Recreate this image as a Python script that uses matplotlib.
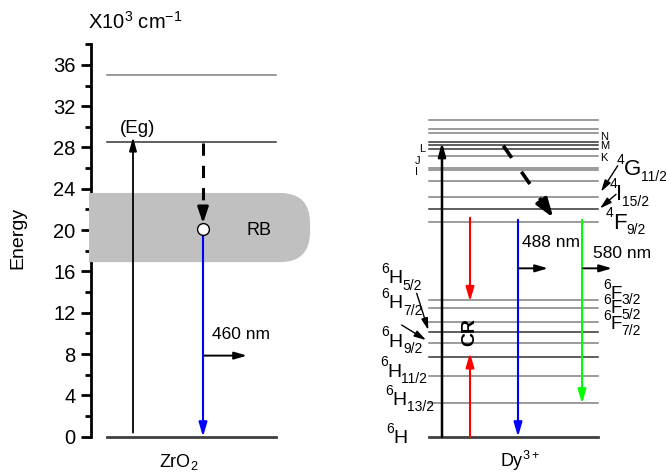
import numpy as np
import matplotlib.pyplot as plt
from matplotlib.patches import FancyBboxPatch, Rectangle

plt.rcParams['font.family'] = ['Liberation Sans', 'DejaVu Sans']
plt.rcParams['mathtext.default'] = 'regular'

# energies in 10^3 cm-1
zro2_levels = [0, 28.5, 35]
zro2_dark = [False, True, False]
rb_band = (16.9, 23.6)
eg_top = 29.0
rb_point = 20.1

dy_levels = [0, 3.3, 5.85, 7.75, 9.1, 10.1, 11.15, 12.45, 13.25,
             20.8, 22.0, 23.2, 24.8, 25.85, 26.05, 27.2, 27.9, 28.2, 28.5,
             29.45, 29.8, 30.7]
dy_dark = [True, False, False, True, False, True, False, False, False,
           False, True, False, False, False, False, False, True, True, True,
           False, False, False]

# term symbols: (multiplicity, letter, J)
h_terms = [('6', 'H', ''), ('6', 'H', '13/2'), ('6', 'H', '11/2'),
           ('6', 'H', '9/2'), ('6', 'H', '7/2'), ('6', 'H', '5/2')]
h_term_e = [-0.64, 3.07, 5.81, 8.71, 12.43, 14.85]
h_term_x = [386.7, 385.7, 380, 381.7, 381.7, 381.7]

f_terms = [('6', 'F', '3/2'), ('6', 'F', '5/2'), ('6', 'F', '7/2')]
f_term_e = [13.35, 11.95, 10.4]

upper_terms = [('4', 'G', '11/2'), ('4', 'I', '15/2'), ('4', 'F', '9/2')]
upper_term_e = [25.3, 22.9, 20.15]
upper_term_x = [617, 609.3, 605.7]

small_left = ['L', 'J', 'I']
small_left_e = [27.85, 26.65, 25.65]
small_right = ['N', 'M', 'K']
small_right_e = [29.05, 28.1, 26.95]

# layout (x in pixel-like units)
PX_PER_E = 10.33
ZR_X0, ZR_X1 = 107, 276
DY_X0, DY_X1 = 429, 598
X_EG, X_RB = 133, 203
X_DY_UP, X_RED, X_BLUE, X_GREEN = 442, 470, 518, 582

fig = plt.figure(figsize=(6.66, 4.73), dpi=100)
ax = fig.add_axes([90.7 / 666, 36.3 / 473, 575.3 / 666, 392.5 / 473])
ax.set_xlim(90.7, 666)
ax.set_ylim(0, 38)
for s in ['top', 'right', 'bottom']:
    ax.spines[s].set_visible(False)
ax.spines['left'].set_linewidth(2)
ax.set_xticks([])
ax.set_yticks(np.arange(0, 37, 4))
ax.set_yticks(np.arange(2, 39, 4), minor=True)
ax.tick_params(axis='y', which='major', length=7, width=2, labelsize=14.5, pad=4)
ax.tick_params(axis='y', which='minor', length=4, width=2)

renderer = fig.canvas.get_renderer()


def text_width_pt(s, size):
    t = fig.text(0, 0, s, fontsize=size)
    w = t.get_window_extent(renderer).width
    t.remove()
    return w * 72 / fig.dpi


def term(x, e, sup, letter, sub, size, ssize, raise_pt=7.5, lower_pt=4):
    kw = dict(xy=(x, e), textcoords='offset points', ha='left', va='baseline',
              annotation_clip=False)
    ax.annotate(sup, xytext=(0, raise_pt), fontsize=ssize, **kw)
    dx = text_width_pt(sup, ssize) - 0.5
    ax.annotate(letter, xytext=(dx, 0), fontsize=size, **kw)
    dx += text_width_pt(letter, size)
    if sub:
        ax.annotate(sub, xytext=(dx, -lower_pt), fontsize=ssize, **kw)


def arrow(x0, e0, x1, e1, color='black', lw=1.3, hl=7, hw=2.2, z=5):
    ax.annotate('', xy=(x1, e1), xytext=(x0, e0),
                arrowprops=dict(arrowstyle='-|>,head_length=%g,head_width=%g' % (hl, hw),
                                color=color, lw=lw, shrinkA=0, shrinkB=0,
                                mutation_scale=1),
                annotation_clip=False, zorder=z)


# RB band
band = FancyBboxPatch((60, rb_band[0]), 250, rb_band[1] - rb_band[0],
                      boxstyle='round,pad=0,rounding_size=30',
                      mutation_aspect=1 / PX_PER_E, fc='#c0c0c0', ec='none', zorder=3)
ax.add_patch(band)
band.set_clip_path(Rectangle((89, -5), 700, 60, transform=ax.transData))

# ZrO2 levels
for e, dark in zip(zro2_levels, zro2_dark):
    if e == 0:
        ax.plot([ZR_X0, ZR_X1], [e, e], color='#404040', lw=2, clip_on=False, zorder=4)
    else:
        ax.plot([ZR_X0, ZR_X1], [e, e], color='#333333' if dark else '#808080',
                lw=1.1, zorder=2)

arrow(X_EG, 0.4, X_EG, eg_top, lw=1.3, hl=8, hw=2.2)
ax.text(X_EG + 5, 29.4, '(Eg)', fontsize=13.5, ha='center', va='baseline')

# dashed relaxation to RB
ax.plot([X_RB, X_RB], [28.4, 21.9], color='black', lw=2.2,
        linestyle=(0, (4, 3.3)), zorder=5)
arrow(X_RB, 22.1, X_RB, 20.65, lw=2, hl=9.5, hw=3.2)
ax.plot([X_RB], [rb_point], marker='o', ms=8.5, mfc='white', mec='black',
        mew=1, zorder=7)
arrow(X_RB, rb_point - 0.6, X_RB, 0, color='#0000ff', lw=1.5, hl=8.5, hw=2.5)
ax.text(247, 19.5, 'RB', fontsize=13, ha='left', va='baseline', zorder=6)
ax.text(212, 9.5, '460 nm', fontsize=12.5, ha='left', va='baseline')
arrow(X_RB + 1, 7.85, 247, 7.85, lw=1.4, hl=7.5, hw=2.2)
ax.text(179, -2.9, r'ZrO$_2$', fontsize=13, ha='center', va='baseline')

# Dy3+ levels
for e, dark in zip(dy_levels, dy_dark):
    if e == 0:
        ax.plot([DY_X0, DY_X1], [e, e], color='#404040', lw=2, clip_on=False, zorder=4)
    else:
        ax.plot([DY_X0, DY_X1], [e, e], color='#333333' if dark else '#808080',
                lw=1.1, zorder=2)

arrow(X_DY_UP, 0, X_DY_UP, 28.5, lw=1.8, hl=8, hw=2.2)
# cross relaxation
arrow(X_RED, 21.2, X_RED, 13.1, color='#ff0000', lw=1.5, hl=8.5, hw=2.5)
arrow(X_RED, 0, X_RED, 8.1, color='#ff0000', lw=1.5, hl=8.5, hw=2.5)
ax.text(X_RED, 10.15, 'CR', fontsize=14, fontweight='bold', rotation=90,
        ha='center', va='center')
# emissions
arrow(X_BLUE, 21.0, X_BLUE, 0, color='#0000ff', lw=1.5, hl=8.5, hw=2.5)
arrow(X_GREEN, 21.0, X_GREEN, 3.2, color='#00ff00', lw=1.5, hl=8.5, hw=2.5)
ax.text(522, 18.4, '488 nm', fontsize=12.5, ha='left', va='baseline')
ax.text(593, 17.3, '580 nm', fontsize=12.5, ha='left', va='baseline')
arrow(X_BLUE + 1, 16.3, 548, 16.3, lw=1.4, hl=7.5, hw=2.2)
arrow(X_GREEN + 1, 16.3, 612, 16.3, lw=1.4, hl=7.5, hw=2.2)

# dashed non-radiative decay
p0 = np.array([503.3, 28.17])
p1 = np.array([553.3, 21.2])
ax.plot([p0[0], p0[0] + 0.85 * (p1[0] - p0[0])],
        [p0[1], p0[1] + 0.85 * (p1[1] - p0[1])],
        color='black', lw=2.6, linestyle=(0, (4.1, 4.7)), zorder=5)
pm = p0 + 0.78 * (p1 - p0)
arrow(pm[0], pm[1], p1[0], p1[1], lw=2.6, hl=11, hw=3.8)

# term labels
for (sup, let, sub), e, x in zip(h_terms, h_term_e, h_term_x):
    term(x, e, sup, let, sub, 14, 10, raise_pt=7.5, lower_pt=4.5)
for (sup, let, sub), e in zip(f_terms, f_term_e):
    term(603, e, sup, let, sub, 13.5, 10, raise_pt=7, lower_pt=4)
for (sup, let, sub), e, x in zip(upper_terms, upper_term_e, upper_term_x):
    term(x, e, sup, let, sub, 16, 10, raise_pt=8.5, lower_pt=4)
for lab, e, x in zip(small_left, small_left_e, [422, 418, 416.5]):
    ax.text(x, e, lab, fontsize=8, ha='center', va='center')
for lab, e in zip(small_right, small_right_e):
    ax.text(600, e, lab, fontsize=8, ha='left', va='center')

arrow(617.7, 26.23, 601, 23.72, lw=1, hl=7, hw=2)
arrow(616, 23.47, 600, 22.1, lw=1, hl=7, hw=2)
arrow(416.7, 13.88, 428.3, 10.33, lw=1, hl=7, hw=2)
arrow(401.7, 10.81, 426, 9.36, lw=1, hl=7, hw=2)

ax.text(520, -2.9, r'Dy$^{3+}$', fontsize=13, ha='center', va='baseline')

fig.text(88 / 666, 1 - 28.3 / 473, r'X10$^3$ cm$^{-1}$', fontsize=14.5,
         ha='left', va='baseline')
fig.text(18 / 666, 1 - 238 / 473, 'Energy', fontsize=14, rotation=90,
         ha='center', va='center')

fig.savefig('out.png', dpi=100)
